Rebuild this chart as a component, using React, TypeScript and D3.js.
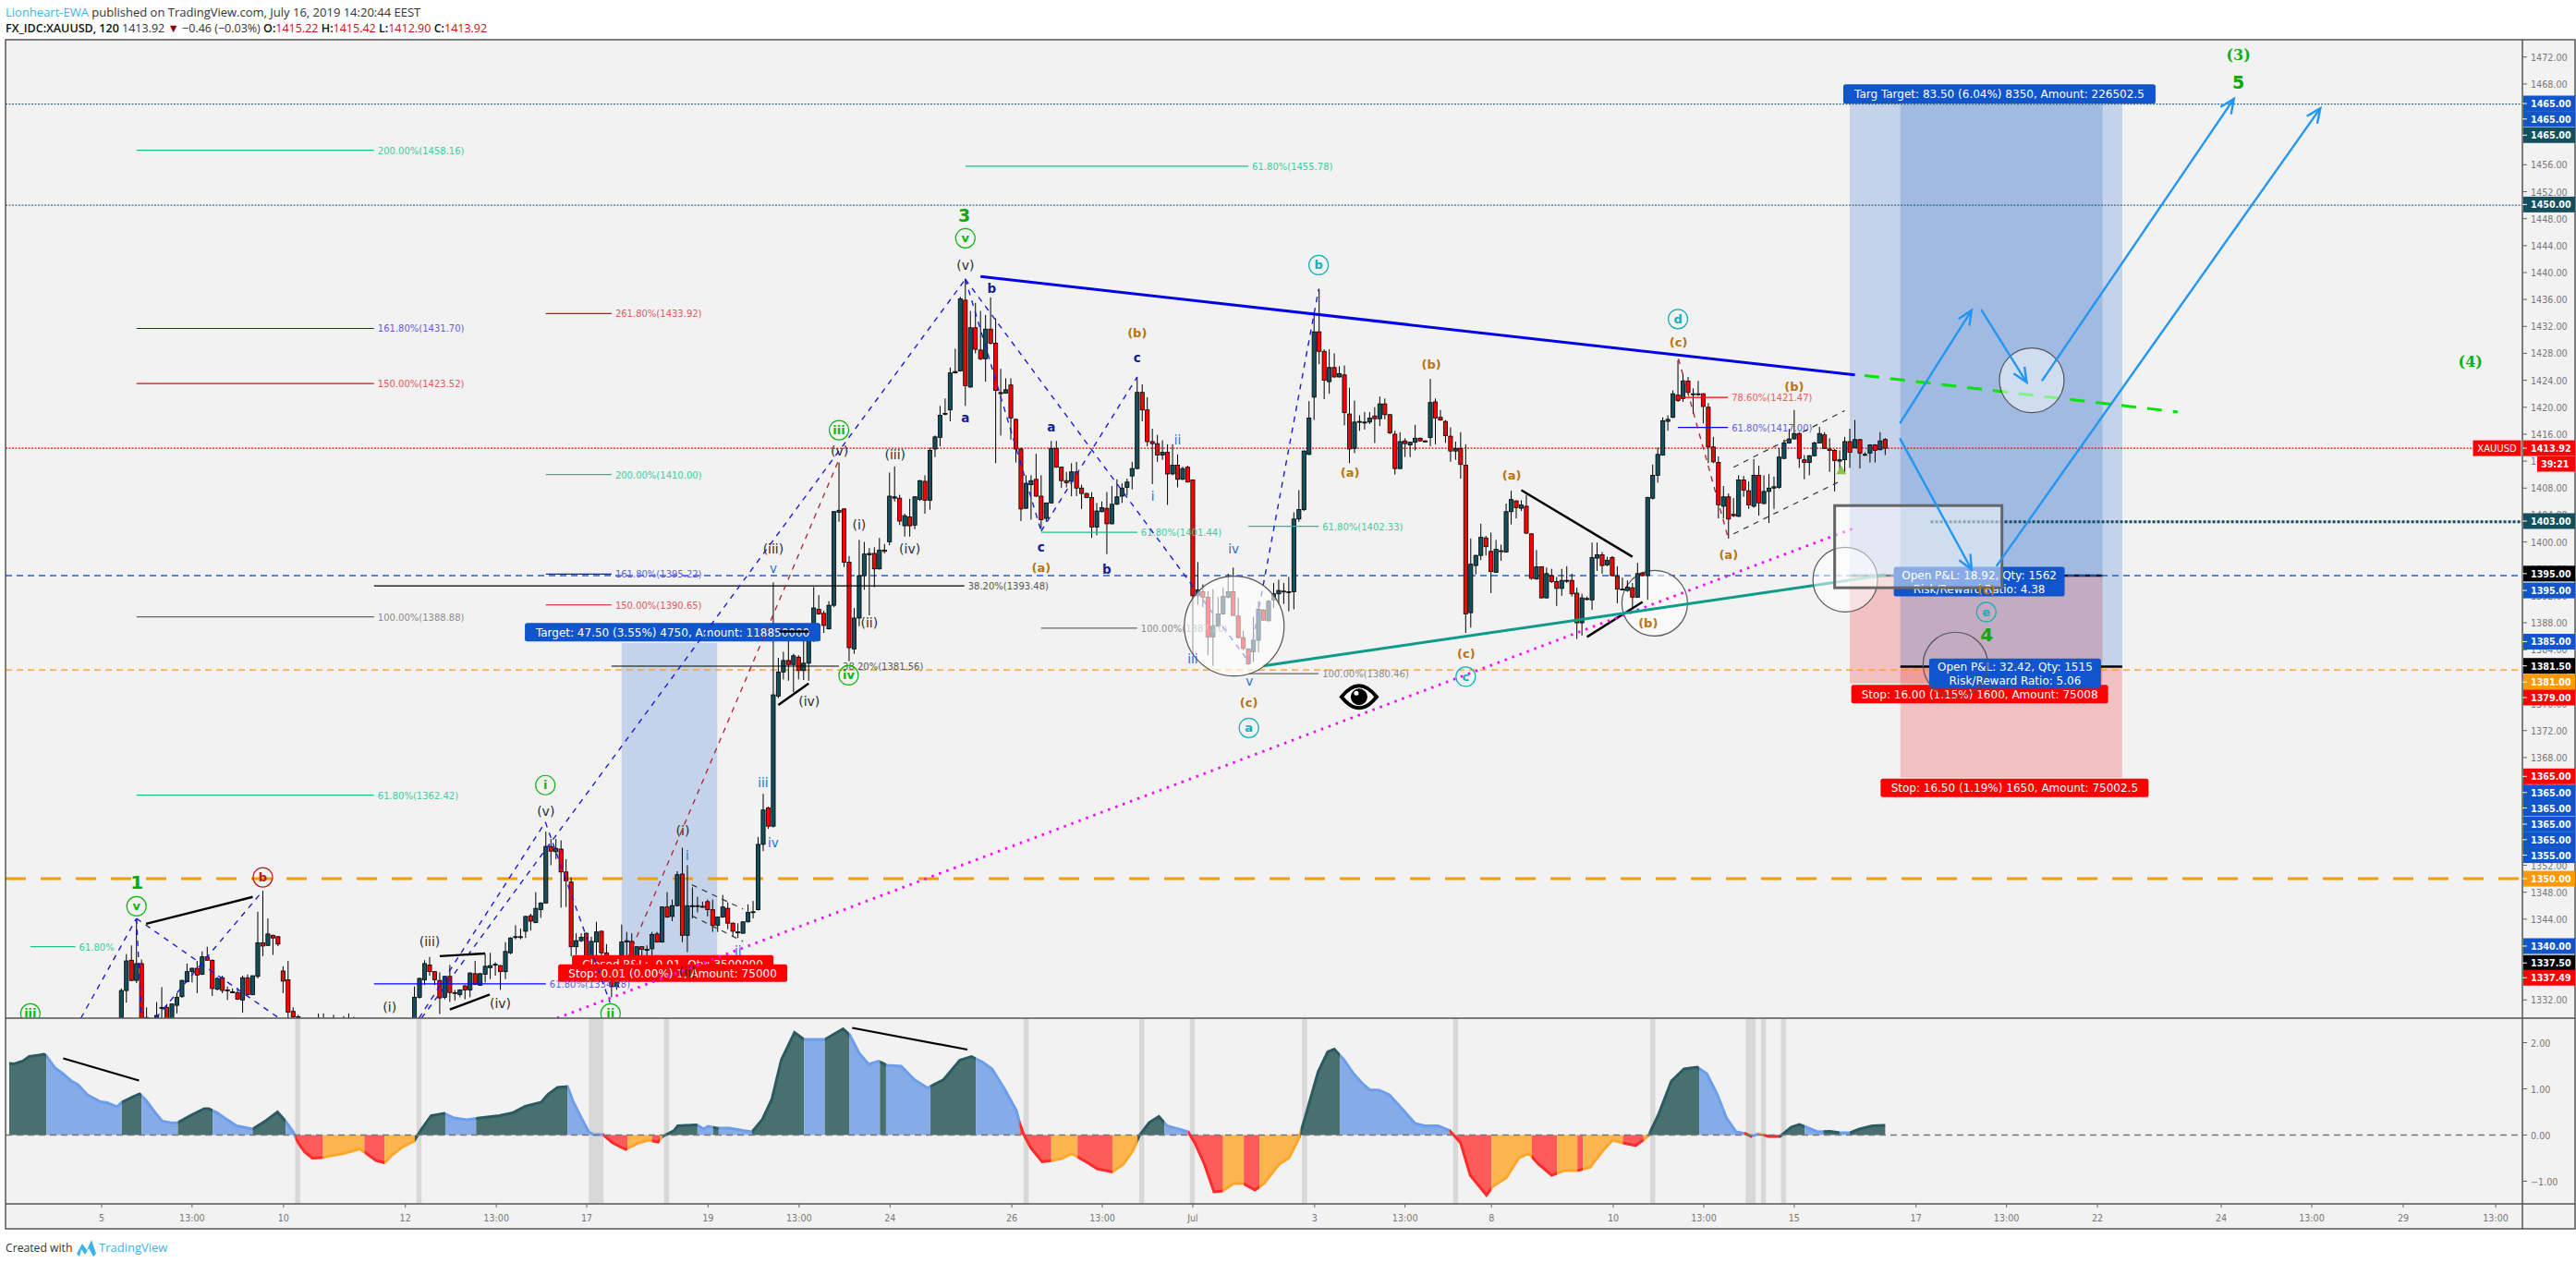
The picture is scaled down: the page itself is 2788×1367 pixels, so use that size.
import React from "react";
import * as d3 from "d3";

// ---------- OHLC [open, high, low, close] ----------
const barsA = [
[1328,1333.7,1326,1333.4],[1333.4,1338.8,1331.6,1337.8],[1337.9,1340.1,1334.8,1334.9],[1334.9,1344.1,1334.5,1337.4],[1337.4,1338,1326,1328],
[1329.4,1330.9,1326,1329.2],[1327,1329,1325,1326.5],[1328,1331.7,1326,1329.7],[1330.8,1333.9,1329,1330.9],[1330.9,1331.4,1326,1327],
[1328,1331.5,1327,1331.4],[1331.2,1333,1330,1332.4],[1332.5,1335,1332.3,1334.9],[1334.7,1337.4,1334.6,1336.2],[1336.2,1336.8,1334.6,1336.7],
[1336.7,1337.8,1333,1335.7],[1335.8,1339.2,1335.7,1338.4],[1338.4,1339.9,1337.8,1337.9],[1337.9,1338,1332.6,1333.7],[1333.6,1335.4,1333.4,1335.2],
[1335.3,1335.6,1333,1333.4],[1333.5,1334,1332,1333.4],[1333.2,1333.7,1333,1333.2],[1333.1,1333.8,1332,1332.1],[1332,1335.6,1330.1,1335.3],
[1335.3,1335.8,1332.7,1332.8],[1332.8,1335.6,1332.7,1335.6],[1335.5,1345.1,1335.2,1340.5],[1340.5,1348.2,1338.5,1340],[1340.1,1344.1,1340,1341.8],
[1341.6,1341.7,1338.7,1341.2],[1341.4,1341.5,1340,1340.3],[1336.3,1337,1333,1334.8],[1335,1337.8,1328,1330.2],[1330.3,1330.9,1328,1329.5],
[1329.5,1329.8,1328,1329.4],
];
const barsHidden = [
[1327,1328.5,1325,1326.5],[1326.5,1328.5,1325,1327],[1327,1328.5,1325,1326],[1326,1330,1325,1327],[1327,1330,1325,1326.5],
[1326.5,1328.5,1325,1327],[1327,1329.8,1325,1326],[1326,1328.5,1325,1327],[1327,1329.6,1325,1326.5],[1326.5,1330,1325,1327],
[1327,1329.5,1325,1326],[1326,1328.5,1324,1325],[1325,1328,1324,1326],[1326,1328,1324,1325],[1325,1328,1324,1326],
[1326,1328,1324,1325],[1325,1328,1324,1326],[1326,1328,1324,1325],[1325,1328,1324,1326],[1326,1328,1324,1325],
[1325,1328,1324,1326],[1326,1328.5,1325,1328],
];
const barsB = [
[1328,1334,1327,1332.4],[1332.4,1335.3,1332.2,1335.2],[1335,1337.9,1334.2,1337.4],[1337.2,1338.4,1335.6,1336.2],[1336.2,1336.3,1334.2,1335],
[1334.9,1336.1,1329.9,1332.3],[1332.4,1335.6,1332.1,1335.5],[1335.5,1337.2,1331.7,1333.1],[1333.1,1333.5,1331.9,1333],[1332.8,1333.6,1332.4,1333.5],
[1334.1,1334.2,1332.1,1333.5],[1333.5,1336.1,1332.4,1336],[1335.9,1337.8,1334.2,1334.3],[1334.2,1336,1334.1,1335.9],[1335.8,1338.8,1334.6,1337],
[1336.8,1339,1335.1,1337.1],[1337.2,1337.6,1335.6,1337.3],[1337.1,1337.2,1333.5,1336.2],[1336.2,1340.6,1335.1,1339.2],[1339,1341.3,1338.8,1341.2],
[1341.3,1343.1,1341,1341.4],[1341.3,1342.6,1341,1341.4],[1342.2,1344.5,1341.2,1344.4],[1344.5,1344.8,1342.3,1343.7],[1343.5,1348,1343.4,1345.6],
[1345.4,1346.5,1344.2,1346.4],[1346.4,1357,1346.3,1354.8],[1354.8,1355.9,1352,1354.1],[1354,1355.9,1352.9,1354.5],[1354.4,1355.7,1345.7,1351],
[1351,1352.9,1345.8,1349.7],[1349.5,1350.2,1338.5,1339.9],
];
const barsC = [
[1339.9,1341.9,1338.7,1340.8],[1340.8,1341.9,1340.6,1341.3],[1341.9,1342,1337,1338.5],[1338.5,1341.4,1337.5,1340.7],[1340.6,1343.6,1338.5,1342.1],
[1342.2,1342.3,1338,1339],[1339,1340.3,1337.8,1338.2],[1336,1337.5,1332.4,1334],[1334,1337,1333.5,1336],[1336.5,1343.2,1336,1340.6],
[1340.6,1342.1,1338,1340.8],[1340.7,1341.9,1337.5,1338],[1338,1340,1337.5,1339.9],[1339.9,1340,1338,1339.5],[1339.4,1340.1,1338,1339.5],
[1339.6,1342.1,1338.5,1341.7],[1341.8,1342.1,1340.5,1340.6],[1340.6,1345.9,1340.5,1345.8],[1345.8,1348,1344.2,1344.3],[1344.4,1346.9,1343.7,1346],
[1346,1351.1,1345.9,1350.6],[1350.7,1354.6,1340.6,1341.6],[1341.6,1352,1339.1,1346],[1345.9,1348.7,1344.1,1346],[1345.9,1347.3,1345,1346],
[1345.9,1346.6,1345.7,1345.9],[1346.6,1346.9,1344.4,1345.4],[1345.4,1346.9,1342.1,1343.1],[1343.1,1344.4,1342.1,1344.3],[1344.3,1347.6,1344.2,1345.8],
[1345.6,1346.5,1342.5,1343.4],[1343.4,1343.5,1341.4,1342.2],[1342.1,1343.4,1341.2,1342.1],[1341.9,1343.7,1341.9,1343.6],[1343.6,1346.2,1343.5,1345],
[1345,1346.7,1344.1,1345.1],[1345.4,1356.2,1345.3,1355.1],[1355.1,1362.6,1354.1,1360.2],[1360.5,1360.7,1357.4,1357.8],[1357.8,1394,1357.6,1377.3],
[1377.1,1382.8,1376.8,1380.7],[1380.7,1383.7,1379.6,1382.4],[1382.4,1385.3,1379.4,1381.8],[1381.8,1383.4,1377.7,1383.1],[1382.9,1383.2,1379.6,1380.9],
[1380.9,1385.3,1379.5,1382],[1382,1387.1,1379.4,1385.3],[1385.3,1393.3,1385.2,1390.2],[1390,1392.1,1389.2,1389.3],[1389.4,1389.8,1386.5,1387.6],
[1387.1,1391.2,1387,1390.6],[1390.6,1404.6,1390.3,1404.5],[1404.4,1411.8,1403,1404.7],[1404.9,1405,1396.3,1397],[1397,1397.9,1382.3,1384.3],
[1384.1,1390.2,1383.4,1388.7],[1388.7,1400.3,1387.5,1395],[1395,1400,1392.9,1398.2],[1398.1,1399.1,1389.1,1398.3],[1398.3,1399.2,1393.3,1396],
[1396,1400.6,1395.9,1398.8],[1398.8,1399.7,1398.3,1398.6],[1400,1410.3,1399.5,1406.8],[1406.5,1411.2,1406,1406.7],[1406.5,1407,1402.5,1403.1],
[1402.4,1404.2,1400.8,1403.9],[1403.7,1406.4,1400.8,1402.4],[1402.5,1406.8,1401.9,1406.7],[1406.3,1409.2,1406.1,1409.1],
];
const barsD = [
[1409,1409.9,1404.2,1406.2],[1406.2,1414,1404.8,1413.6],[1413.8,1415.8,1412.6,1415.6],[1415.5,1420.2,1414.2,1418.8],[1419,1421.3,1418.8,1419.1],
[1419.6,1425.9,1417.9,1425.1],[1425.1,1428.7,1425,1425.3],[1425.4,1436.4,1425.3,1436.1],[1435.9,1439.1,1420.2,1423.2],[1423,1434.3,1422.9,1431.8],
[1431.8,1435.5,1428,1428.6],[1428.5,1434.3,1427,1427.2],[1427.2,1433.7,1423.8,1431.6],[1431.6,1436.3,1429.3,1429.5],[1429.5,1433.2,1411.7,1422.5],
[1422.2,1425.7,1415.8,1422],[1422.1,1424.3,1422,1422.6],[1423.3,1424.3,1415.2,1418.4],[1418.2,1418.3,1411.8,1413.8],[1413.8,1414,1403.1,1404.9],
[1405,1409.9,1404.9,1408.7],[1408.5,1409.9,1403.3,1409.1],[1409.3,1413.1,1406.7,1406.8],[1406.8,1409.9,1401.9,1403.3],[1403.5,1405.8,1403,1405.8],
[1405.8,1415,1405.7,1413.9],[1413.9,1415,1411,1411.1],[1411.1,1411.2,1408,1409.1],[1409.1,1410.4,1408.1,1408.8],[1409,1411.7,1406.8,1410.4],
[1410.4,1411.9,1406.8,1408],[1408,1408.5,1404.9,1407.2],[1407.2,1407.3,1406.5,1406.6],[1406.6,1407.4,1400.6,1402.2],[1402.2,1405.8,1401,1404.6],
[1404.5,1406,1404.4,1405.1],[1405,1407.4,1398.2,1402.7],[1402.7,1408.3,1402.6,1405.6],[1405.6,1409.3,1405.5,1406.7],[1406.8,1408.7,1405.8,1408],
[1408.1,1409.4,1406.9,1408.9],[1409.8,1411.9,1407.8,1410.9],[1410.9,1424.5,1410.8,1422.2],[1422.2,1423.4,1417.9,1419.6],[1419.6,1421.5,1414.2,1414.9],
[1414.9,1416.8,1408.6,1414.6],[1414.6,1415.9,1411.9,1412.9],[1412.9,1415.1,1412.2,1413.3],[1413.3,1414.5,1405.5,1410.1],[1410.1,1414.5,1409.9,1411.4],
[1411.4,1413,1408.1,1409.3],[1409.3,1411.2,1409.2,1410.9],[1411.1,1411.3,1408.8,1408.9],[1409.2,1409.3,1383.4,1392],[1392,1397,1390.7,1392.9],
[1392.6,1393.7,1390.3,1391.8],[1391.8,1392.7,1383.2,1385.9],[1385.9,1393,1381.6,1387.5],[1387.5,1391.8,1387.4,1389.3],[1389.3,1393.2,1389.2,1391.9],
[1391.8,1395.3,1391.6,1392.6],[1392.6,1396.2,1389,1389.1],[1389,1391.7,1385.7,1385.8],[1385.8,1386.8,1383.9,1384.2],[1384.1,1384.2,1381.8,1381.9],
[1383.7,1388.9,1382.2,1385.4],[1385.4,1391.2,1383.6,1390],[1389.9,1390,1388.3,1388.4],[1388.3,1391.4,1388.2,1391.2],[1391.4,1393.9,1390.2,1392.3],
[1392.3,1394.4,1390.7,1392.8],[1392.7,1393.9,1390.8,1392.7],[1392.6,1394.8,1389.7,1392.6],[1392.6,1404.4,1390,1403.4],[1403.4,1407.7,1403,1404.8],
[1404.8,1413.6,1404.6,1413.5],[1413,1420.9,1412.9,1418.4],[1421.5,1433.7,1418.1,1431.2],[1431.2,1437.6,1426.4,1428.3],[1428.3,1428.6,1421.2,1424],
[1423.8,1428.6,1422,1425.9],[1425.9,1428,1424.4,1424.5],[1424.5,1426.1,1424.4,1425],[1424.8,1426.2,1417.3,1419.2],[1419,1422.9,1411.7,1413.8],
[1413.9,1421,1413.2,1417.8],[1417.8,1418.8,1416.5,1417.9],[1417.8,1419.3,1416.7,1417.8],[1417.8,1419.3,1417.5,1418.4],[1418.7,1420,1414.7,1418.3],
[1418.3,1421.6,1417.2,1420.5],[1420.5,1421.3,1418.2,1418.9],[1418.9,1419,1416,1416.2],[1416,1416.5,1410,1410.9],[1410.9,1416.3,1410.8,1414.9],
];
const barsE = [
[1415,1415.4,1412.6,1414.6],[1414.4,1414.9,1412.6,1414.8],[1414.8,1417.4,1413.6,1415.4],[1415.4,1415.5,1414.9,1415],[1415,1415.1,1414.8,1414.9],
[1415.5,1424.2,1414.2,1420.7],[1420.8,1421.3,1414.5,1418.4],[1418.5,1419.6,1418,1418.1],[1417.9,1418.1,1414.7,1415.8],[1415.7,1417,1411.9,1413.5],
[1413.5,1414.9,1412.2,1413.9],[1413.9,1416.3,1409.4,1411.5],[1411.4,1414.5,1386.5,1389.3],[1389.5,1400.5,1387.3,1396.7],[1396.5,1398.1,1395.2,1398],
[1398,1402.7,1397.3,1400.7],[1400.6,1400.9,1398,1399.3],[1398.6,1401.4,1392.4,1395.6],[1395.5,1400.3,1395.4,1398.9],[1398.7,1399.6,1397.2,1398.6],
[1398.5,1405.7,1398.4,1404.5],[1404.5,1407.6,1402.6,1406.3],[1406.1,1406.2,1403.5,1405.1],[1405,1406.2,1404.6,1405.5],[1405.3,1407,1401.2,1401.3],
[1401.2,1401.3,1394.4,1394.6],[1394.5,1398.8,1394.4,1396.3],[1396.3,1396.4,1391.6,1391.7],[1391.7,1396.2,1391.6,1395.3],[1395,1396,1393.9,1394.1],
[1394.1,1394.8,1390.5,1393.1],[1393.1,1396,1392,1394.3],[1394.2,1396.4,1393.9,1394.3],[1394.3,1395.3,1391.9,1392.3],[1392.4,1393.2,1385.6,1388],
[1388,1392.3,1386.1,1391.7],[1391.6,1391.9,1391.3,1391.6],[1391.4,1399.9,1389.9,1397.7],[1397.6,1399.9,1395.7,1398.1],[1398.1,1398.5,1395.3,1396.5],
[1396.6,1397.8,1396.4,1397.3],[1397.7,1397.9,1394.9,1395],[1394.9,1396.4,1390.9,1393],[1393,1394.7,1392.8,1393],[1392.8,1394.3,1392.6,1393.3],
[1393.2,1393.9,1390,1391.8],[1391.8,1396.9,1391.7,1395.3],[1395.4,1395.5,1394.9,1395],[1395,1406.7,1391.4,1406.6],[1406.5,1411.5,1406.3,1409.9],
[1409.9,1414,1408.8,1413],[1412.9,1418.5,1412.8,1418],[1417.9,1418.8,1416.5,1418.2],[1418.5,1422.5,1418.4,1422],[1421.8,1427,1420.8,1421],
[1421.3,1425,1420.8,1423.9],[1423.9,1424.5,1422,1422.2],[1422,1422.8,1419,1422],[1422,1423.9,1421.7,1422],[1422,1422.1,1417.6,1420.1],
[1420,1420.6,1411.7,1414.1],[1414.1,1415.6,1411.7,1411.9],[1411.8,1412.7,1403.5,1405.5],[1405.3,1408.3,1403.5,1406.7],[1406.7,1407.2,1400.5,1403.4],
[1404.1,1406.5,1403.7,1403.9],[1403.8,1409.9,1403.7,1409.2],[1409.2,1409.8,1406.7,1407.7],[1407.6,1409,1404.9,1405.5],[1405.3,1412.3,1405.1,1409.9],
[1409.9,1411.3,1403.9,1405.8],[1405.7,1409.9,1405.6,1407.5],[1407.5,1410.1,1402.8,1408],[1408,1409.7,1404.9,1408.2],[1408.1,1413.9,1407.9,1412.6],
[1412.4,1415.2,1412.3,1414.7],[1414.7,1416.8,1414.6,1415.3],[1415.3,1419.6,1415.2,1416.1],[1416.1,1416.3,1411,1412.4],[1412.2,1412.9,1409.3,1411.8],
[1411.8,1412.9,1409.9,1412.8],[1412.8,1414.9,1412.7,1414.7],[1414.7,1417.1,1414.6,1416.1],[1415.9,1416.3,1413.8,1413.9],[1413.8,1415.4,1410.4,1413.6],
[1413.6,1413.8,1407.5,1412.1],[1412,1413.6,1410.3,1412.2],[1412.2,1415.6,1410.3,1414.9],[1414.9,1416.8,1411,1413.3],[1414,1418.1,1413.9,1415.2],
[1415.2,1415.3,1410.9,1413.2],[1413,1413.3,1412.8,1413],[1413.2,1414.5,1411.8,1414.4],[1414.4,1414.5,1411.8,1413.6],[1413.7,1416.3,1413.6,1415],
[1415.22,1415.42,1412.9,1413.92],
];
const candles = [...barsA, ...barsHidden, ...barsB, ...barsC, ...barsD, ...barsE];

// ---------- oscillator [bar, value] ----------
const oscLeft = [
[-22.2,1.55],[-21.2,1.54],[-19.5,1.6],[-18.2,1.7],[-16.3,1.73],[-15.3,1.75],[-14.8,1.71],[-13.1,1.45],[-11.8,1.35],[-9.9,1.17],[-8.6,1.09],[-6.7,.87],[-4.1,.72],[-2.8,.7],[-.9,.61],[.1,.71],[2.3,.83],[3.6,.89],[4.9,.75],[6.8,.47],[8.1,.3],[10,.26],[11.2,.27],[13.8,.43],[16.4,.57],[17.3,.57],[19,.48],[20.3,.38],[22.8,.2],[26,.13],[28.6,.31],[30.9,.5],[32.5,.3],[34,.07],[35,-.17],[36.3,-.37],[37.8,-.5],[39.5,-.49],[41.4,-.45],[44,-.4],[47.2,-.3],[48.5,-.4],[50.4,-.55],[52.1,-.6],[53.6,-.43],[55.5,-.27],[57.9,-.13],[59.4,.13],[61.3,.42],[63.9,.47],[65.8,.37],[68.4,.33],[70.9,.37],[74.8,.42],[77.4,.48],[79.9,.62],[83.1,.71],[84.4,.88],[86.3,1.03],[88.3,1.05],[89.5,.7],[91.5,.27],[92.5,.07],[93.4,.01],[95.3,.01],[97.2,-.17],[99.8,-.31],[102.4,-.17],[104.3,-.11],[106.2,-.15],[107.1,-.03],[109.4,.1],[110.1,.2],[113.9,.22],[115.2,.13],[116.1,.19],[117.8,.15],[120.3,.15],[122.9,.1],[124.8,.07],[126.8,.33],[128.7,.77],[130.6,1.63],[133.2,2.22],[135.1,2.07],[139.2,2.07],[142.8,2.3],[144.1,2.17],[146,1.77],[147.9,1.53],[149.8,1.6],[151.5,1.51],[154.3,1.49],[156.9,1.2],[159.5,1.02],[162.7,1.2],[165.9,1.62],[168.2,1.7],[170.4,1.58],[172.3,1.43],[174.9,.97],
];
const oscRight = [
[177.1,.53],[177.7,.27],[178.6,0],[179.9,-.27],[182.2,-.58],[184.2,-.55],[186.1,-.51],[188,-.4],[189.3,-.48],[191.2,-.6],[193.1,-.73],[196.1,-.8],[198.3,-.63],[200.2,-.33],[201.5,0],[203.4,.27],[205.3,.4],[206.9,.2],[209.2,.13],[211.1,.07],[212.4,-.17],[214.3,-.63],[216.2,-1.23],[217.9,-1.21],[220.1,-1.05],[222,-1.05],[224.3,-1.19],[226.1,-1.05],[229.1,-.63],[231,-.5],[232.9,-.1],[234.2,.37],[236.8,1.37],[238.7,1.8],[240,1.86],[241.9,1.63],[243.8,1.33],[245.7,1.1],[247,.98],[248.9,.97],[250.9,.87],[253.4,.57],[256,.25],[257.9,.2],[260.5,.2],[262.8,.1],[265,-.17],[266.9,-.87],[270.1,-1.3],[271.4,-1.11],[274,-.93],[276.5,-.5],[278.5,-.4],[280.4,-.63],[283,-.87],[285.5,-.77],[288.1,-.77],[290.6,-.7],[293.2,-.33],[295.1,-.11],[297.1,-.17],[299.6,-.23],[301.3,-.1],[302.2,0],[304.1,.43],[306.7,1.17],[309.2,1.43],[311.8,1.47],[313.7,1.33],[315.7,.9],[317.6,.37],[319.5,.07],[321.4,.03],[322.5,-.03],[324,.03],[325.9,-.03],[328.2,-.03],[330.4,.17],[332,.23],[333.4,.17],[335.6,.07],[338.1,.08],[340,.05],[342,.05],[343.9,.13],[346.5,.2],[349,.21],
];
const oscSeries = [...oscLeft, ...oscRight];
// colour bands: [end bar, kind]  d = rising above 0, b = falling above 0, r = falling below 0, o = rising below 0
const oscBandStart = -22.2;
const oscBands: [number, string][] = [
[-14.8,"d"],[.1,"b"],[4,"d"],[11.2,"b"],[18.1,"d"],[26,"b"],[32.5,"d"],[34.4,"b"],[39.9,"r"],[48.1,"o"],[52.1,"r"],[58.1,"o"],[64.1,"d"],[70.2,"b"],[88.3,"d"],[92.5,"b"],[95.3,"b"],[100.2,"r"],[105,"o"],[106.6,"r"],[107.1,"o"],[114,"d"],[117.1,"b"],[118.2,"d"],[124.8,"b"],[135.1,"d"],[139.2,"b"],[144.1,"d"],[150.1,"b"],[151.3,"d"],[160.1,"b"],[169.1,"d"],[177.7,"b"],[184,"r"],[189.2,"o"],[196.1,"r"],[201.1,"o"],[206.4,"d"],[211.1,"b"],[218,"r"],[222.1,"o"],[225.2,"r"],[233.3,"o"],[241.1,"d"],[262.8,"b"],[271.1,"r"],[279.1,"o"],[284.1,"r"],[288.1,"o"],[289.2,"r"],[297.1,"o"],[301.2,"r"],[302.2,"o"],[312.2,"d"],[321.1,"b"],[322.7,"r"],[324,"b"],[324.9,"o"],[327.9,"r"],[333.1,"d"],[336.8,"b"],[340,"d"],[342,"b"],[349.3,"d"],
];
const oscShades = [[34.4,35.4],[58.4,59.4],[92.5,95.4],[107.4,108.4],[178.5,179.5],[201.4,202.4],[211.4,212.4],[233.6,234.6],[263.5,264.5],[302.5,303.5],[321.4,323.4],[324.4,325.4],[328.4,329.4]];
const oscTrends = [[[-11.5,1.66],[3.5,1.18]],[[144.6,2.32],[167.4,1.85]]];

// ---------- axes ----------
const priceTicks = [1472,1468,1464,1460,1456,1452,1448,1444,1440,1436,1432,1428,1424,1420,1416,1412,1408,1404,1400,1396,1392,1388,1384,1380,1376,1372,1368,1364,1360,1356,1352,1348,1344,1340,1336,1332];
const oscTicks = [[2,"2.00"],[1,"1.00"],[0,"0.00"],[-1,"−1.00"]] as [number,string][];
const timeLabels = ["5","13:00","10","12","13:00","17","19","13:00","24","26","13:00","Jul","3","13:00","8","10","13:00","15","17","13:00","22","24","13:00","29","13:00"];
const timeBars = [-3.9,14,32.1,56.2,74.2,92.1,116.1,134.1,152.1,176.2,194.1,212,236.1,254,271.1,295.2,313.1,331,355.1,373,391,415.5,433.4,451.5,469.8];

// ---------- price badges: [text, colour, slot price] ----------
const BLUE = "#1155cc", TEAL = "#134f5c", RED = "#ff0000", ORANGE = "#ff9900", BLACK = "#000000";
const badges: [string,string,number][] = [
["1465.00",BLUE,1465.1],["1465.00",BLUE,1462.8],["1465.00",TEAL,1460.4],["1450.00",TEAL,1450.1],["1403.00",TEAL,1403.1],
["1395.00",BLACK,1395.3],["1395.00",BLUE,1392.8],["1385.00",BLUE,1385.2],["1381.50",BLACK,1381.6],["1381.00",ORANGE,1379.2],["1379.00",RED,1376.9],
["1365.00",RED,1365.2],["1365.00",BLUE,1362.8],["1365.00",BLUE,1360.5],["1365.00",BLUE,1358.1],["1365.00",BLUE,1355.8],["1355.00",BLUE,1353.5],
["1350.00",ORANGE,1350],["1340.00",BLUE,1340],["1337.50",BLACK,1337.5],["1337.49",RED,1335.3],["1413.92",RED,1413.92],
];

// ---------- horizontal levels ----------
const levels = [
{p:1465,c:"#134f5c",w:1,d:"2 1.5",from:-23},{p:1450,c:"#134f5c",w:1,d:"2 1.5",from:-23},
{p:1413.92,c:"#ff0000",w:1.1,d:"2 1.5",from:-23},{p:1395,c:"#1a62d6",w:1.4,d:"7 5",from:-23},
{p:1381,c:"#ff9900",w:1.4,d:"7 5",from:-23},{p:1350,c:"#ff9900",w:3,d:"22 16",from:-23},
{p:1403,c:"#134f5c",w:3,d:"3 2",from:358},
];

// ---------- fibonacci levels ----------
const C_FG = "#16c28e", C_FB = "#1a1acc", C_FR = "#cc1111", C_FK = "#666666";
const fibs: {a:number,b:number,p:number,t:string,c:string,tc:string}[] = [
{a:3,b:50,p:1458.16,t:"200.00%(1458.16)",c:C_FG,tc:"#3fcb9f"},{a:3,b:50,p:1431.7,t:"161.80%(1431.70)",c:C_FB,tc:"#5f5fe0"},
{a:3,b:50,p:1423.52,t:"150.00%(1423.52)",c:C_FR,tc:"#e05a5a"},{a:84,b:97,p:1433.92,t:"261.80%(1433.92)",c:C_FR,tc:"#e05a5a"},
{a:167,b:223,p:1455.78,t:"61.80%(1455.78)",c:C_FG,tc:"#3fcb9f"},{a:84,b:97,p:1410,t:"200.00%(1410.00)",c:C_FG,tc:"#3fcb9f"},
{a:84,b:97,p:1395.22,t:"161.80%(1395.22)",c:C_FB,tc:"#5f5fe0"},{a:84,b:97,p:1390.65,t:"150.00%(1390.65)",c:C_FR,tc:"#e05a5a"},
{a:3,b:50,p:1388.88,t:"100.00%(1388.88)",c:C_FK,tc:"#8c8c8c"},{a:3,b:50,p:1362.42,t:"61.80%(1362.42)",c:C_FG,tc:"#3fcb9f"},
{a:-18,b:-9.1,p:1339.9,t:"61.80%",c:C_FG,tc:"#3fcb9f"},{a:50,b:84,p:1334.4,t:"61.80%(1334.28)",c:"#0000ff",tc:"#5f5fe0"},
{a:50,b:166.8,p:1393.48,t:"38.20%(1393.48)",c:"#000000",tc:"#555555"},{a:97,b:142,p:1381.56,t:"38.20%(1381.56)",c:"#000000",tc:"#555555"},
{a:182,b:201,p:1401.44,t:"61.80%(1401.44)",c:C_FG,tc:"#3fcb9f"},{a:223,b:236.9,p:1402.33,t:"61.80%(1402.33)",c:C_FG,tc:"#3fcb9f"},
{a:182,b:201,p:1387.2,t:"100.00%(1387.10)",c:C_FK,tc:"#8c8c8c"},{a:223,b:236.9,p:1380.46,t:"100.00%(1380.46)",c:C_FK,tc:"#8c8c8c"},
{a:308,b:317.9,p:1421.47,t:"78.60%(1421.47)",c:"#ff0000",tc:"#f05a5a"},{a:308,b:317.9,p:1417,t:"61.80%(1417.00)",c:"#0000ee",tc:"#5f5fe0"},
];

// ---------- drawn lines [[bar,price],[bar,price]] ----------
type Pt = [number,number];
const blackSegments: [Pt,Pt][] = [
[[4.9,1343.3],[26,1347.3]],[[63,1338.5],[72,1338.9]],[[65,1330.6],[72.9,1332.8]],[[130,1375.8],[136,1379]],[[130.2,1386.7],[136,1386.7]],[[277,1407.7],[299,1397.8]],[[290,1385.9],[301,1391.1]],
];
const waveDashes: [Pt,Pt][] = [
[[-8,1329.3],[3,1344.1]],[[3,1344.1],[4,1329.3]],[[3,1344.1],[31.2,1329.3]],[[6.8,1329.3],[28,1348.2]],[[58.9,1329.3],[83.9,1358.4]],[[83.9,1358.4],[96.7,1331.6]],
[[59.4,1329.3],[167,1439]],[[167,1439],[182,1401.6]],[[167,1439],[223.1,1382.2]],[[182,1401.6],[201,1424.5]],[[223.1,1382.2],[236.9,1437.5]],
];
const redDashes: [Pt,Pt][] = [[[99.4,1336.8],[141.8,1411.9]],[[308.1,1427.2],[317.9,1400.7]]];
const channelDashes: [Pt,Pt][] = [[[319,1411.1],[341,1419.5]],[[319,1401.2],[340.3,1409.1]],[[112.9,1349.1],[123,1345.5]],[[112.9,1344.5],[123,1340.7]]];
const resistance: [Pt,Pt] = [[170,1439.4],[343,1424.8]];
const resistanceExt: [Pt,Pt] = [[344.9,1424.7],[406.9,1419.3]];
const support: [Pt,Pt] = [[225.9,1381.6],[349.1,1395.1]];
const riseLine: [Pt,Pt] = [[86.2,1329.3],[343,1402.1]];
const arrows: [Pt,Pt][] = [
[[351.9,1417.6],[366.1,1434.4]],[[368,1434.5],[377,1423.7]],[[380,1423.9],[418,1465.8]],[[371,1396.4],[435.1,1464.4]],[[351.9,1415.4],[366.1,1395.9]],
];

// ---------- position tools ----------
const positions = [
{a:99,b:117.9,entry:1337.5,target:1385,stop:1337.49,line:false},
{a:342,b:392,entry:1395,target:1465,stop:1379,line:true},
{a:352,b:395.9,entry:1381.5,target:1465,stop:1365,line:true},
];
const infoBoxes = [
{lines:["Closed P&L: -0.01, Qty: 3500000"],bar:109.1,p:1337.3,w:218,h:20,bg:"#ff0000"},
{lines:["Stop: 0.01 (0.00%) 1, Amount: 75000"],bar:109.1,p:1336,w:248,h:19,bg:"#ff0000"},
{lines:["Target: 47.50 (3.55%) 4750, Amount: 118850000"],bar:109.1,p:1386.6,w:320,h:20,bg:"#1155cc"},
{lines:["Targ Target: 83.50 (6.04%) 8350, Amount: 226502.5"],bar:371.6,p:1466.5,w:338,h:21,bg:"#1155cc"},
{lines:["Open P&L: 18.92, Qty: 1562","Risk/Reward Ratio: 4.38"],bar:367.6,p:1394.1,w:185,h:32,bg:"#1155cc"},
{lines:["Stop: 16.00 (1.15%) 1600, Amount: 75008"],bar:367.7,p:1377.4,w:278,h:20,bg:"#ff0000"},
{lines:["Stop: 16.50 (1.19%) 1650, Amount: 75002.5"],bar:374.6,p:1363.5,w:290,h:20,bg:"#ff0000"},
{lines:["Open P&L: 32.42, Qty: 1515","Risk/Reward Ratio: 5.06"],bar:374.7,p:1380.5,w:186,h:32,bg:"#1155cc"},
];
const selectionRect = {a:339,b:372.1,top:1405.4,bottom:1393.2};
const circlesUnder = [[303.4,1390.9,35.5]];
const circlesOver = [[220.2,1387.5,54],[341.1,1394.4,35],[378,1424,35]];
const circleOutline = [[362.9,1381.8,35]];
const eyeAt: Pt = [244.9,1377];
const triangleAt: Pt = [340.3,1410.5];

// ---------- wave labels [text, bar, price] ----------
const wavesBlack: [string,number,number][] = [["(iii)",61,1340.7],["(i)",53.1,1331],["(iv)",75,1331.5],["(v)",84,1360],["(i)",111.1,1357.1],["(ii)",112,1336.1],["(iii)",129,1399],["(iv)",136.1,1376.3],["(ii)",148,1388],["(i)",146,1402.5],["(iv)",156,1399],["(iii)",153.1,1413],["(v)",142.1,1413.5],["(v)",167,1441.1]];
const wavesSky: [string,number,number][] = [["i",112,1353.4],["iii",127,1364.3],["iv",129,1355.3],["ii",122,1339.3],["v",129,1396.1],["ii",209,1415.2],["i",204.1,1406.8],["iv",220.1,1399],["iii",212,1382.7],["v",223.2,1379.3]];
const wavesNavy: [string,number,number][] = [["a",167,1418.4],["b",172.2,1437.6],["a",184,1417.1],["c",182,1399.3],["b",195,1396],["c",201,1427.4]];
const wavesBrown: [string,number,number][] = [["(a)",182,1396.3],["(b)",201,1431.1],["(c)",223.1,1376.2],["(a)",243.1,1410.3],["(b)",259.2,1426.4],["(a)",275.1,1410],["(c)",266.1,1383.5],["(b)",302.1,1388],["(c)",308.1,1429.7],["(b)",331,1423.1],["(a)",318,1398.2],["(c)",369,1393]];
const wavesGreen: [string,number,number,number][] = [["1",3.1,1349.5,20],["3",166.8,1448.5,19],["4",369.1,1386.3,20],["5",418.9,1468.3,19]];
const wavesGreenBig: [string,number,number][] = [["(3)",418.9,1472.4],["(4)",464.8,1426.8]];
const circledGreen: [string,number,number][] = [["v",3,1345.9],["i",83.9,1363.9],["iii",-18,1330],["ii",96.8,1330],["iv",143.9,1380.2],["iii",142,1416.6],["v",167,1445.1]];
const circledRed: [string,number,number][] = [["b",28,1350.2]];
const circledTeal: [string,number,number][] = [["a",223.1,1372.4],["b",236.9,1441.1],["c",266,1380],["d",308,1433.1],["e",369,1389.6]];

// ---------- layout ----------
const W = 2788, H = 1367;
const L = 6, T = 43, AX = 2730, R = 2787, PANE = 1102, OSB = 1303, B = 1330;
const SANS = "'DejaVu Sans', sans-serif";
const HEAD = "'Open Sans', 'Noto Sans', sans-serif";

const x = d3.scaleLinear().domain([0, 349]).range([131.3, 131.3 + 349 * 5.47]);
const y = d3.scaleLinear().domain([1472, 1332]).range([61.7, 1082.3]);
const oy = d3.scaleLinear().domain([2, -1]).range([1128.5, 1278.5]);

const oscFill: Record<string,string> = { d:"#47706e", b:"#85abe8", r:"#ff5b5b", o:"#fdb54f" };
const oscStroke: Record<string,string> = { d:"#2b5b60", b:"#6d9eeb", r:"#ff2a2a", o:"#ffa62b" };

const oscArea = d3.area<number[]>().x(d => x(d[0])).y0(oy(0)).y1(d => oy(d[1]));
const oscLine = d3.line<number[]>().x(d => x(d[0])).y(d => oy(d[1]));

function Seg({ s, stroke, w, dash }: { s: [Pt,Pt]; stroke: string; w: number; dash?: string }) {
  return <line x1={x(s[0][0])} y1={y(s[0][1])} x2={x(s[1][0])} y2={y(s[1][1])} stroke={stroke} strokeWidth={w} strokeDasharray={dash} />;
}

function Arrow({ s }: { s: [Pt,Pt] }) {
  const x1 = x(s[0][0]), y1 = y(s[0][1]), x2 = x(s[1][0]), y2 = y(s[1][1]);
  const an = Math.atan2(y2 - y1, x2 - x1), h = 17, sp = 0.42;
  const p = (k: number) => `${x2 - h * Math.cos(an + k)},${y2 - h * Math.sin(an + k)}`;
  return (
    <g stroke="#2196f3" strokeWidth={2.4} fill="none">
      <line x1={x1} y1={y1} x2={x2} y2={y2} />
      <polyline points={`${p(sp)} ${x2},${y2} ${p(-sp)}`} />
    </g>
  );
}

function Info({ b }: { b: { lines: string[]; bar: number; p: number; w: number; h: number; bg: string } }) {
  const cx = x(b.bar), cy = y(b.p);
  return (
    <g>
      <rect x={cx - b.w / 2} y={cy - b.h / 2} width={b.w} height={b.h} rx={2.5} fill={b.bg} />
      {b.lines.map((t, i) => (
        <text key={i} x={cx} y={cy + (i - (b.lines.length - 1) / 2) * 15 + 4.5} textAnchor="middle" fontFamily={SANS} fontSize={12} fill="#fff">{t}</text>
      ))}
    </g>
  );
}

function Circled({ t, bar, p, c, r = 10 }: { t: string; bar: number; p: number; c: string; r?: number }) {
  return (
    <g>
      <circle cx={x(bar)} cy={y(p)} r={r} fill="none" stroke={c} strokeWidth={1.2} />
      <text x={x(bar)} y={y(p) + 4.5} textAnchor="middle" fontFamily={SANS} fontSize={13} fontWeight="bold" fill={c}>{t}</text>
    </g>
  );
}

export default function App() {
  const priceLabelX = AX + 9;
  return (
    <svg width={W} height={H} viewBox={`0 0 ${W} ${H}`} style={{ position: "absolute", left: 0, top: 0, display: "block", background: "#fff" }}>
      <defs>
        <clipPath id="pane"><rect x={L} y={T} width={AX - L} height={PANE - T} /></clipPath>
        {oscBands.map((b, i) => {
          const s = i === 0 ? oscBandStart : oscBands[i - 1][0];
          return <clipPath id={`band${i}`} key={i}><rect x={x(s)} y={PANE} width={x(b[0]) - x(s)} height={OSB - PANE} /></clipPath>;
        })}
      </defs>

      {/* header */}
      <text x={6} y={18} fontFamily={HEAD} fontSize={13} >
        <tspan fill="#3bb3e4">Lionheart-EWA</tspan>
        <tspan fill="#333"> published on TradingView.com, July 16, 2019 14:20:44 EEST</tspan>
      </text>
      <text x={6} y={35} fontFamily={HEAD} fontSize={12.5} fill="#333">
        <tspan fontWeight="600" fill="#111">FX_IDC:XAUUSD, 120 </tspan>
        <tspan>1413.92 </tspan><tspan fill="#8b0000">▼</tspan><tspan> −0.46 (−0.03%) </tspan>
        <tspan fontWeight="600" fill="#111">O:</tspan><tspan fill="#c21111">1415.22 </tspan>
        <tspan fontWeight="600" fill="#111">H:</tspan><tspan fill="#c21111">1415.42 </tspan>
        <tspan fontWeight="600" fill="#111">L:</tspan><tspan fill="#c21111">1412.90 </tspan>
        <tspan fontWeight="600" fill="#111">C:</tspan><tspan fill="#c21111">1413.92</tspan>
      </text>

      <rect x={L} y={T} width={R - L} height={B - T} fill="#f2f2f2" />

      {/* main pane */}
      <g clipPath="url(#pane)">
        {positions.map((q, i) => (
          <g key={i}>
            <rect x={x(q.a)} y={y(q.target)} width={x(q.b) - x(q.a)} height={y(q.entry) - y(q.target)} fill="rgb(34,102,200)" fillOpacity={0.22} />
            <rect x={x(q.a)} y={y(q.entry)} width={x(q.b) - x(q.a)} height={y(q.stop) - y(q.entry)} fill="rgb(240,0,0)" fillOpacity={0.2} />
            {q.line && <line x1={x(q.a)} x2={x(q.b)} y1={y(q.entry)} y2={y(q.entry)} stroke="#000" strokeWidth={2.5} />}
          </g>
        ))}
        {levels.map((l, i) => (
          <line key={i} x1={l.from > 0 ? x(l.from) : L} x2={AX} y1={y(l.p)} y2={y(l.p)} stroke={l.c} strokeWidth={l.w} strokeDasharray={l.d} />
        ))}
        {circlesUnder.map((c, i) => <circle key={i} cx={x(c[0])} cy={y(c[1])} r={c[2]} fill="#fff" fillOpacity={0.55} stroke="#555" strokeWidth={1.2} />)}

        {candles.map((d, i) => {
          const up = d[3] >= d[0];
          const top = y(Math.max(d[0], d[3])), bot = y(Math.min(d[0], d[3]));
          return (
            <g key={i}>
              <line x1={x(i)} x2={x(i)} y1={y(d[1])} y2={y(d[2])} stroke="#000" strokeWidth={1} />
              <rect x={x(i) - 2.1} width={4.2} y={top} height={Math.max(bot - top, 1)} fill={up ? "#134f5c" : "#ff0000"} stroke="#000" strokeWidth={0.8} />
            </g>
          );
        })}

        {infoBoxes.map((b, i) => <Info key={i} b={b} />)}

        {fibs.map((f, i) => (
          <g key={i}>
            <line x1={x(f.a)} x2={x(f.b)} y1={y(f.p)} y2={y(f.p)} stroke={f.c} strokeWidth={1.2} />
            <text x={x(f.b) + 4} y={y(f.p) + 4} fontFamily={SANS} fontSize={10} fill={f.tc}>{f.t}</text>
          </g>
        ))}
        {waveDashes.map((s, i) => <Seg key={i} s={s} stroke="#1a1ae0" w={1.4} dash="6 6" />)}
        {redDashes.map((s, i) => <Seg key={i} s={s} stroke="#b02030" w={1.3} dash="6 6" />)}
        {channelDashes.map((s, i) => <Seg key={i} s={s} stroke="#333" w={1.2} dash="6 6" />)}
        {blackSegments.map((s, i) => <Seg key={i} s={s} stroke="#000" w={2.4} />)}
        <Seg s={riseLine} stroke="#ff00ff" w={2.8} dash="2.5 6" />
        <Seg s={resistance} stroke="#0000e6" w={3} />
        <Seg s={resistanceExt} stroke="#00e600" w={3} dash="16 12" />
        <Seg s={support} stroke="#0f9a8a" w={3} />

        {circlesOver.map((c, i) => <circle key={i} cx={x(c[0])} cy={y(c[1])} r={c[2]} fill="#fff" fillOpacity={i === 0 ? 0.6 : 0.5} stroke="#555" strokeWidth={1.2} />)}
        {circleOutline.map((c, i) => <circle key={i} cx={x(c[0])} cy={y(c[1])} r={c[2]} fill="none" stroke="#555" strokeWidth={1.2} />)}

        {/* eye */}
        <g transform={`translate(${x(eyeAt[0])},${y(eyeAt[1])})`}>
          <path d="M-19,0 Q0,-24 19,0 Q0,24 -19,0 Z" fill="#fff" stroke="#000" strokeWidth={4} />
          <circle r={9} fill="#000" />
          <circle cx={-3} cy={-4} r={2.5} fill="#fff" />
        </g>
        <path transform={`translate(${x(triangleAt[0])},${y(triangleAt[1])})`} d={d3.symbol(d3.symbolTriangle, 50)() as string} fill="#8bc34a" />

        {/* selection rectangle sits above the blue box, below the (c) label */}
        <rect x={x(selectionRect.a)} y={y(selectionRect.top)} width={x(selectionRect.b) - x(selectionRect.a)} height={y(selectionRect.bottom) - y(selectionRect.top)} fill="#fff" fillOpacity={0.5} stroke="#666" strokeWidth={3} />

        {wavesBlack.map((w, i) => <text key={i} x={x(w[1])} y={y(w[2]) + 5} textAnchor="middle" fontFamily={SANS} fontSize={14} fill="#2c2c2c">{w[0]}</text>)}
        {wavesSky.map((w, i) => <text key={i} x={x(w[1])} y={y(w[2]) + 5} textAnchor="middle" fontFamily={SANS} fontSize={13.5} fill="#2a6fd0">{w[0]}</text>)}
        {wavesNavy.map((w, i) => <text key={i} x={x(w[1])} y={y(w[2]) + 5} textAnchor="middle" fontFamily={SANS} fontSize={13.5} fontWeight="bold" fill="#1a1a9c">{w[0]}</text>)}
        {wavesBrown.map((w, i) => <text key={i} x={x(w[1])} y={y(w[2]) + 5} textAnchor="middle" fontFamily={SANS} fontSize={13} fontWeight="bold" fill="#b8740f">{w[0]}</text>)}
        {wavesGreen.map((w, i) => <text key={i} x={x(w[1])} y={y(w[2]) + w[3] * 0.36} textAnchor="middle" fontFamily={SANS} fontSize={w[3]} fontWeight="bold" fill="#10a810">{w[0]}</text>)}
        {wavesGreenBig.map((w, i) => <text key={i} x={x(w[1])} y={y(w[2]) + 6} textAnchor="middle" fontFamily="'DejaVu Serif', serif" fontSize={16} fontWeight="bold" fill="#10b010">{w[0]}</text>)}
        {circledGreen.map((w, i) => <Circled key={i} t={w[0]} bar={w[1]} p={w[2]} c="#11b511" r={10.5} />)}
        {circledRed.map((w, i) => <Circled key={i} t={w[0]} bar={w[1]} p={w[2]} c="#c01515" r={10.5} />)}
        {circledTeal.map((w, i) => <Circled key={i} t={w[0]} bar={w[1]} p={w[2]} c="#12b0b5" r={10.5} />)}

        {arrows.map((s, i) => <Arrow key={i} s={s} />)}

        <rect x={2676.5} y={y(1413.92) - 8.5} width={52} height={17} fill="#ff0000" />
        <text x={2702.5} y={y(1413.92) + 4} textAnchor="middle" fontFamily={SANS} fontSize={10} fill="#fff">XAUUSD</text>
      </g>

      {/* oscillator */}
      <g>
        {oscShades.map((s, i) => <rect key={i} x={x(s[0])} width={x(s[1]) - x(s[0])} y={PANE} height={OSB - PANE} fill="#d8d8d8" />)}
        {oscBands.map((b, i) => (
          <g key={i} clipPath={`url(#band${i})`}>
            <path d={oscArea(oscSeries) as string} fill={oscFill[b[1]]} />
            <path d={oscLine(oscSeries) as string} fill="none" stroke={oscStroke[b[1]]} strokeWidth={3} />
          </g>
        ))}
        <line x1={L} x2={AX} y1={oy(0)} y2={oy(0)} stroke="#777" strokeWidth={1.5} strokeDasharray="7 5" />
        {oscTrends.map((s, i) => <line key={i} x1={x(s[0][0])} y1={oy(s[0][1])} x2={x(s[1][0])} y2={oy(s[1][1])} stroke="#000" strokeWidth={2.2} />)}
      </g>

      {/* frame */}
      <g stroke="#555" strokeWidth={1.5} fill="none">
        <rect x={L} y={T} width={R - L} height={B - T} />
        <line x1={AX} x2={AX} y1={T} y2={B} />
        <line x1={L} x2={R} y1={PANE} y2={PANE} />
        <line x1={L} x2={R} y1={OSB} y2={OSB} />
      </g>

      {/* price axis */}
      {priceTicks.map(p => (
        <g key={p}>
          <line x1={AX} x2={AX + 5} y1={y(p)} y2={y(p)} stroke="#666" />
          <text x={priceLabelX} y={y(p) + 4} fontFamily={SANS} fontSize={9.6} fill="#777">{p.toFixed(2)}</text>
        </g>
      ))}
      {oscTicks.map(t => (
        <g key={t[1]}>
          <line x1={AX} x2={AX + 5} y1={oy(t[0])} y2={oy(t[0])} stroke="#666" />
          <text x={priceLabelX} y={oy(t[0]) + 4} fontFamily={SANS} fontSize={9.6} fill="#777">{t[1]}</text>
        </g>
      ))}
      {badges.map((b, i) => (
        <g key={i}>
          <rect x={AX + 1} y={y(b[2]) - 8.5} width={R - AX - 1} height={17} fill={b[1]} />
          <line x1={AX} x2={AX + 5} y1={y(b[2])} y2={y(b[2])} stroke="#fff" />
          <text x={priceLabelX} y={y(b[2]) + 4} fontFamily={SANS} fontSize={9.6} fontWeight="bold" fill="#fff">{b[0]}</text>
        </g>
      ))}
      <rect x={2746} y={494} width={41} height={16.5} fill="#ff0000" />
      <text x={2750} y={506} fontFamily={SANS} fontSize={9.6} fontWeight="bold" fill="#fff">39:21</text>

      {/* time axis */}
      {timeBars.map((b, i) => (
        <g key={i}>
          <line x1={x(b)} x2={x(b)} y1={OSB} y2={OSB + 4} stroke="#666" />
          <text x={x(b)} y={1322} textAnchor="middle" fontFamily={SANS} fontSize={9.6} fill="#777">{timeLabels[i]}</text>
        </g>
      ))}

      {/* footer */}
      <text x={6} y={1355} fontFamily={HEAD} fontSize={12.2} fill="#333">Created with</text>
      <g transform="translate(83,1341)">
        <path d="M0,16 L6,5 L11,12 L16,1 L21,16 L18,19 L13,10 L9,17 L5,11 L3,19 Z" fill="#3bb3e4" />
      </g>
      <text x={107} y={1355} fontFamily={HEAD} fontSize={13} fill="#3bb3e4">TradingView</text>
    </svg>
  );
}
